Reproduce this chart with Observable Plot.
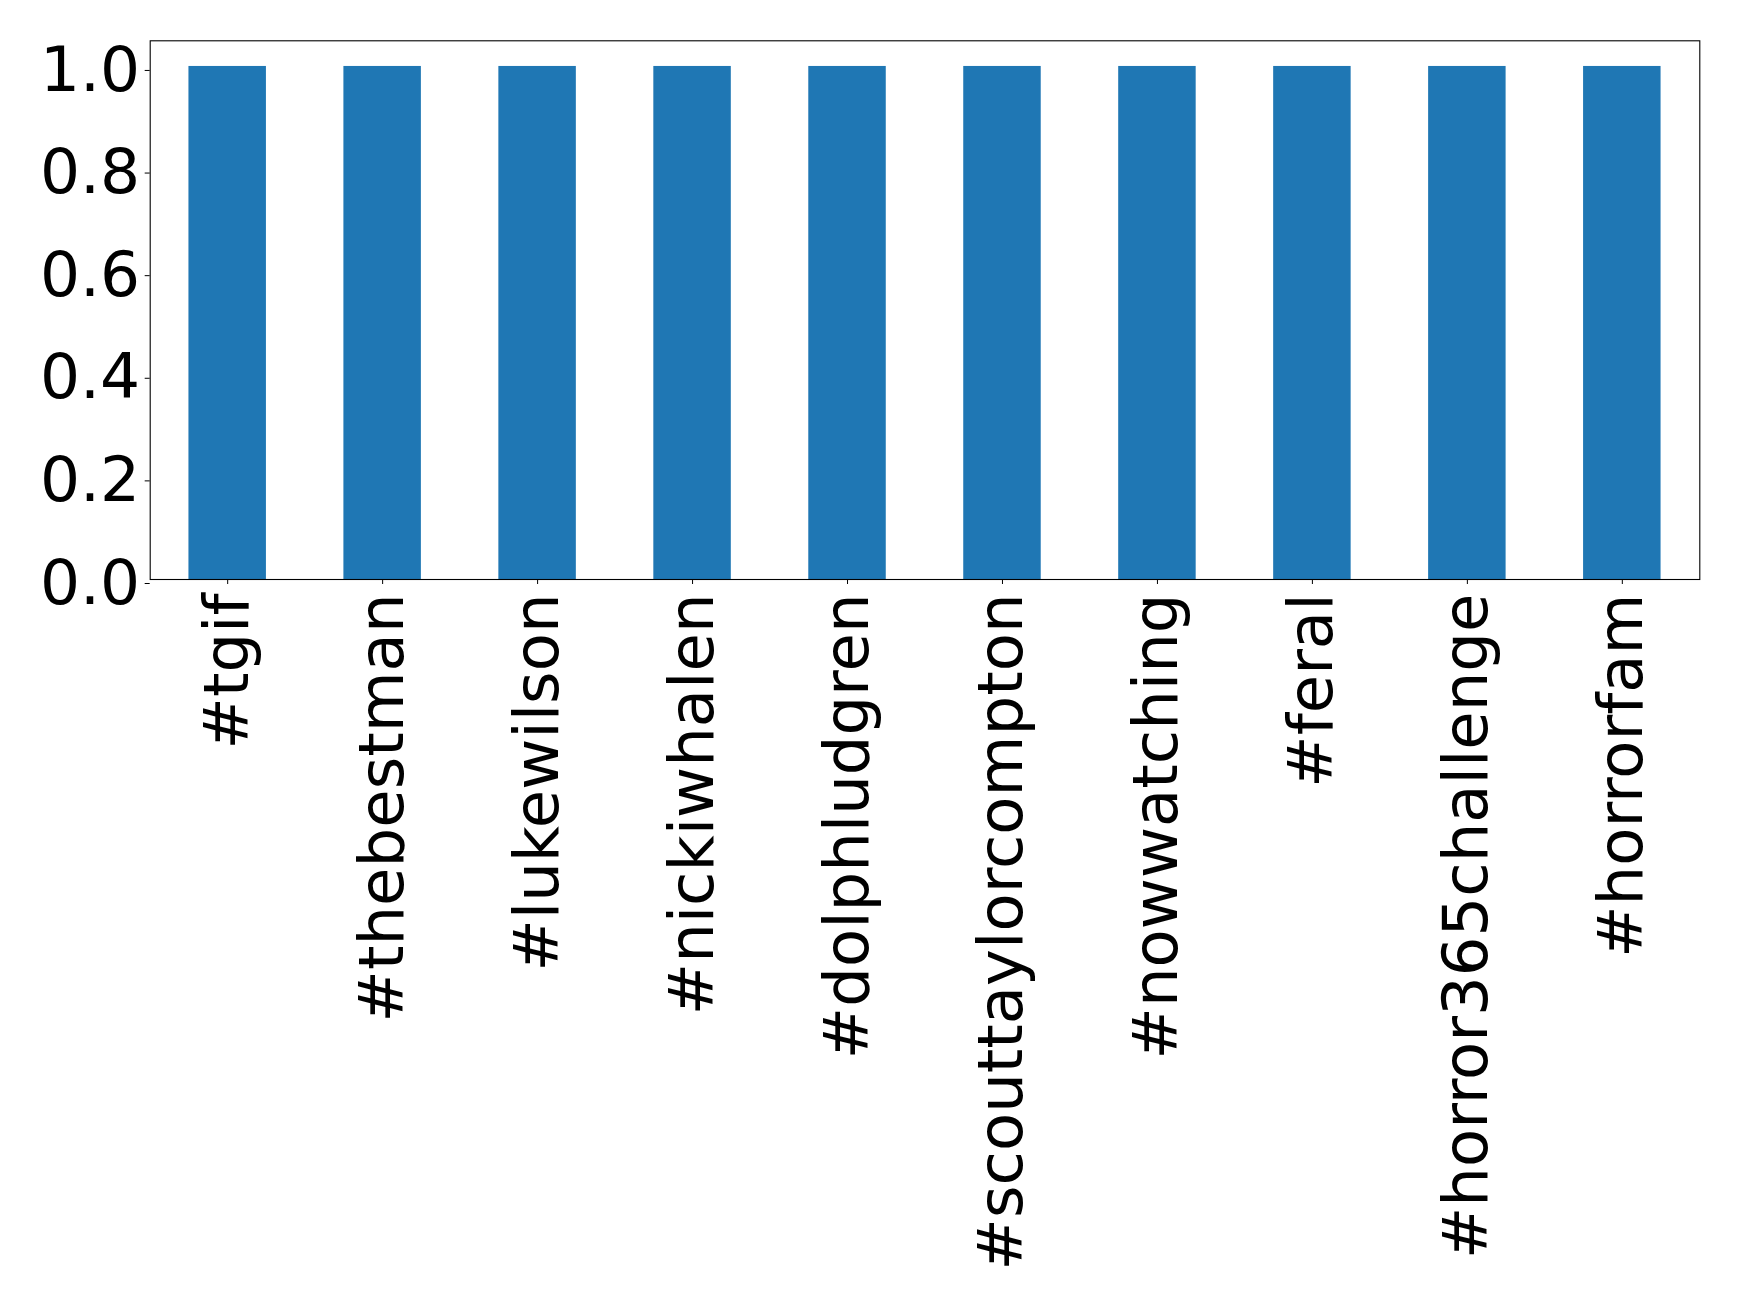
<!DOCTYPE html>
<html>
<head>
<meta charset="utf-8">
<script src="https://cdn.jsdelivr.net/npm/d3@7"></script>
<script src="https://cdn.jsdelivr.net/npm/@observablehq/plot@0.6"></script>
<style>
  html, body { margin: 0; padding: 0; background: #fff; }
  #chart svg { display: block; }
</style>
</head>
<body>
<div id="chart"></div>
<script>
const hashtags = ["#tgif", "#thebestman", "#lukewilson", "#nickiwhalen", "#dolphludgren",
  "#scouttaylorcompton", "#nowwatching", "#feral", "#horror365challenge", "#horrorfam"];
const values = [1, 1, 1, 1, 1, 1, 1, 1, 1, 1];
const yTicks = [0, 0.2, 0.4, 0.6, 0.8, 1.0];

const data = hashtags.map((h, i) => ({tag: h, value: values[i]}));

const chart = Plot.plot({
  width: 1739,
  height: 1305,
  marginLeft: 149.7,
  marginRight: 39.7,
  marginTop: 40.3,
  marginBottom: 726,
  style: {fontFamily: "DejaVu Sans", background: "#fff", overflow: "visible"},
  x: {domain: hashtags, paddingInner: 0.5, paddingOuter: 0.25, round: false, label: null},
  y: {domain: [0, 1.05], label: null},
  marks: [
    Plot.barY(data, {x: "tag", y: "value", fill: "#1f77b4"}),
    Plot.frame({stroke: "#000", strokeWidth: 1.1}),
    Plot.axisY({ticks: yTicks, tickFormat: d3.format(".1f"), tickSize: 5, tickPadding: 5,
      fontSize: 63, label: null, stroke: "#000", color: "#000", dy: 4}),
    Plot.axisX({tickRotate: -90, tickSize: 5, tickPadding: 9, fontSize: 62.5, label: null,
      stroke: "#000", color: "#000"})
  ]
});
document.getElementById("chart").appendChild(chart);
</script>
</body>
</html>
